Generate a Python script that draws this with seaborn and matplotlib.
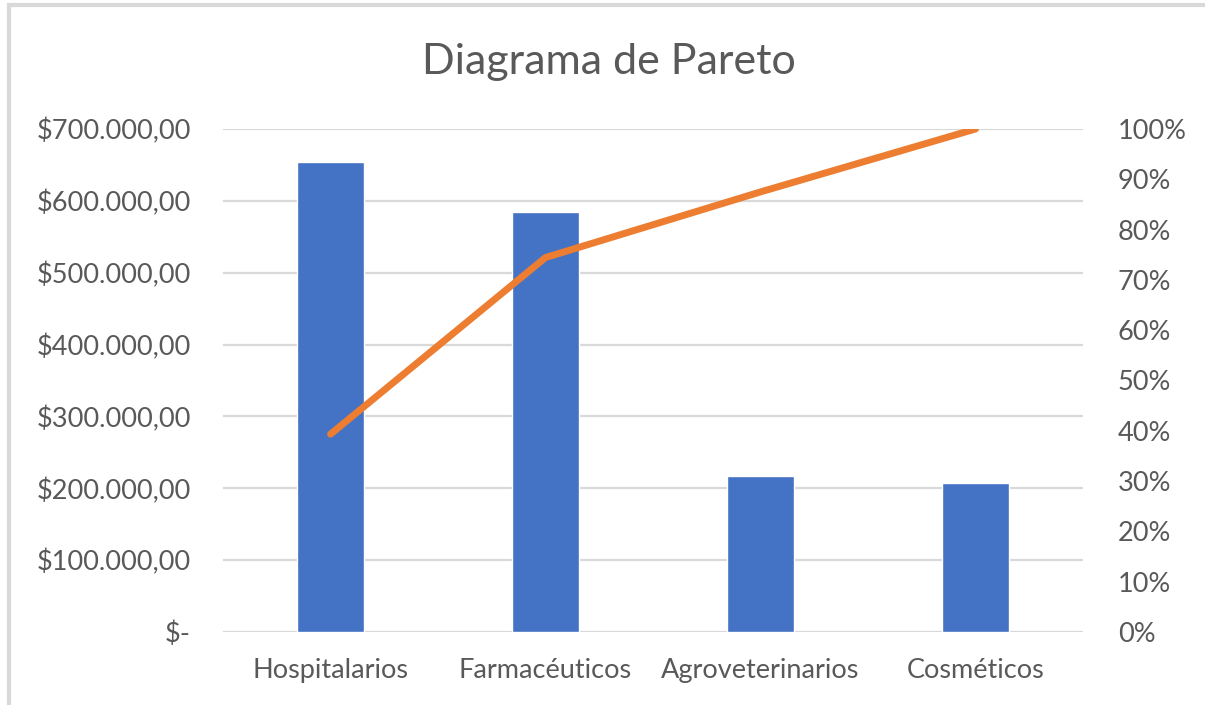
import numpy as np
import pandas as pd
import matplotlib.pyplot as plt
import seaborn as sns
from matplotlib.patches import Rectangle
from matplotlib.ticker import FuncFormatter, MultipleLocator

# Data
categories = ['Hospitalarios', 'Farmacéuticos', 'Agroveterinarios', 'Cosméticos']
sales = [654000, 584000, 217000, 208000]

cum_pct = list(np.cumsum(sales) / np.sum(sales))
df = pd.DataFrame({'categoria': categories, 'ventas': sales, 'acumulado': cum_pct})

sns.set_style('white')
plt.rcParams['font.family'] = ['Lato', 'DejaVu Sans']
text_color = '#595959'
grid_color = '#D9D9D9'

fig = plt.figure(figsize=(12.05, 7.05), dpi=100)
ax = fig.add_axes([223 / 1205, 1 - 632 / 705, (1083 - 223) / 1205, (632 - 129) / 705])

# outer chart border (partially cropped like the screenshot)
fig.patches.append(Rectangle((9 / 1205, -0.05), 1.2, 1 - 5 / 705 + 0.05, transform=fig.transFigure,
                             fill=False, edgecolor='#D9D9D9', linewidth=3, zorder=0))

sns.barplot(data=df, x='categoria', y='ventas', color='#4472C4', width=0.316,
            saturation=1, ax=ax, zorder=3)
ax.set_xlim(-0.5, 3.5)
ax.set_ylim(0, 700000)
ax.yaxis.set_major_locator(MultipleLocator(100000))


def money(v, pos):
    if v == 0:
        return '$-'
    return '$' + f'{v:,.2f}'.replace(',', 'X').replace('.', ',').replace('X', '.')


ax.yaxis.set_major_formatter(FuncFormatter(money))
ax.grid(axis='y', color=grid_color, linewidth=1.6, zorder=0)
ax.set_axisbelow(True)
for s in ax.spines.values():
    s.set_visible(False)
ax.set_xlabel('')
ax.set_ylabel('')
ax.tick_params(axis='both', length=0, labelsize=19.5, colors=text_color)
ax.tick_params(axis='y', pad=23)
ax.tick_params(axis='x', pad=19)

ax2 = ax.twinx()
sns.lineplot(data=df, x='categoria', y='acumulado', color='#ED7D31', linewidth=5,
             sort=False, ax=ax2, solid_capstyle='round')
ax2.set_ylim(0, 1)
ax2.yaxis.set_major_locator(MultipleLocator(0.1))
ax2.yaxis.set_major_formatter(FuncFormatter(lambda v, p: f'{v * 100:.0f}%'))
for s in ax2.spines.values():
    s.set_visible(False)
ax2.set_ylabel('')
ax2.set_xlabel('')
ax2.tick_params(axis='y', length=0, labelsize=19.5, colors=text_color, pad=25)

fig.text(609 / 1205, 1 - 62 / 705, 'Diagrama de Pareto', ha='center', va='center',
         fontsize=31, color=text_color)

fig.savefig('out.png', dpi=100)
